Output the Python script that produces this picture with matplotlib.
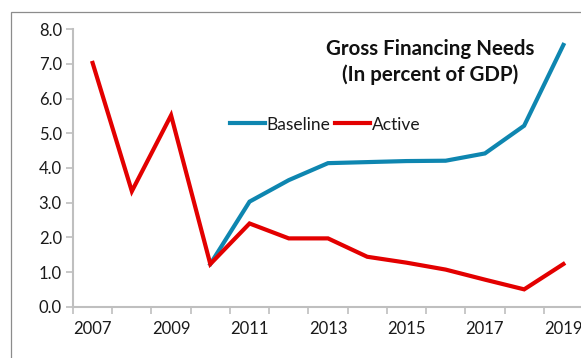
import numpy as np
import matplotlib.pyplot as plt
from matplotlib.patches import Rectangle

# data
years = list(range(2007, 2020))
active = [7.03, 3.33, 5.52, 1.23, 2.40, 1.97, 1.97, 1.44, 1.27, 1.07, 0.78, 0.50, 1.23]
baseline = [np.nan, np.nan, np.nan, 1.23, 3.03, 3.65, 4.14, 4.17, 4.20, 4.21, 4.42, 5.22, 7.55]
title = "Gross Financing Needs\n(In percent of GDP)"

plt.rcParams['font.family'] = ['Lato', 'DejaVu Sans']

W, H = 581, 358
fig = plt.figure(figsize=(W / 100, H / 100), dpi=100)

# outer chart border (runs off the right/bottom edge)
fig.patches.append(Rectangle((11 / W, -0.1), 1.2, (H - 12) / H + 0.1,
                             transform=fig.transFigure, fill=False,
                             edgecolor='#8c8c8c', linewidth=0.9))

ax = fig.add_axes([73 / W, (H - 306.7) / H, (583 - 73) / W, 277.4 / H])
x = np.arange(len(years))
ax.plot(x, baseline, color='#0e86b0', linewidth=3.0, label='Baseline',
        solid_joinstyle='miter', clip_on=False)
ax.plot(x, active, color='#e30000', linewidth=3.0, label='Active',
        solid_joinstyle='miter', clip_on=False)

ax.set_xlim(-0.5, len(years) - 0.5)
ax.set_ylim(0, 8)
ax.set_yticks(np.arange(0, 9, 1))
ax.set_yticklabels([f"{v:.1f}" for v in np.arange(0, 9, 1)])
ax.set_xticks(x[::2])
ax.set_xticklabels([str(y) for y in years[::2]])
ax.set_xticks(np.arange(-0.5, len(years), 1), minor=True)

for s in ['top', 'right']:
    ax.spines[s].set_visible(False)
for s in ['left', 'bottom']:
    ax.spines[s].set_color('#bfbfbf')
    ax.spines[s].set_linewidth(1.5)

ax.tick_params(axis='x', which='major', length=0, pad=10, labelsize=12, labelcolor='#1a1a1a')
ax.tick_params(axis='x', which='minor', length=5, width=1.2, color='#bfbfbf')
ax.tick_params(axis='y', length=5, width=1.2, color='#bfbfbf', pad=3,
               labelsize=12, labelcolor='#1a1a1a')

ax.text(430, H - 62, title, transform=None, ha='center', va='center',
        fontsize=14.8, fontweight='bold', linespacing=1.3, color='#111111')

leg = ax.legend(loc='center left', bbox_to_anchor=(230 / W, (H - 124.5) / H),
                bbox_transform=fig.transFigure, ncol=2, frameon=False,
                handlelength=2.0, handletextpad=0.12, columnspacing=0.25,
                fontsize=12.5, borderaxespad=0, borderpad=0)
for t in leg.get_texts():
    t.set_color('#1a1a1a')

fig.savefig('out.png', dpi=100)
